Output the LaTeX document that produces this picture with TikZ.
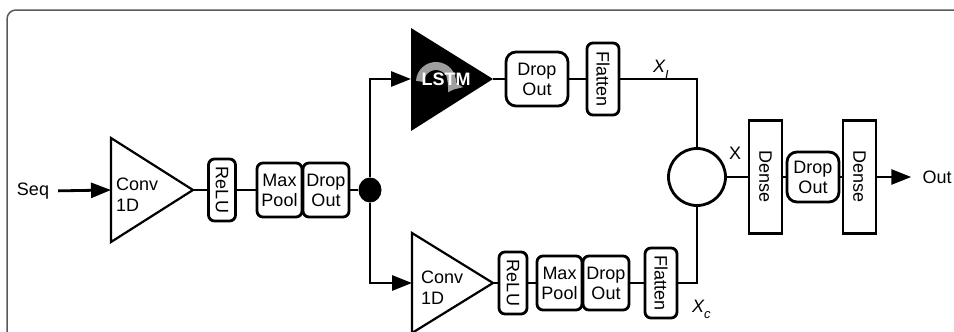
\documentclass[tikz,border=0pt]{standalone}
\usepackage{fontspec}
\setmainfont{Liberation Sans}
\usetikzlibrary{arrows.meta,shapes.geometric}
\begin{document}
\begin{tikzpicture}[x=1pt,y=-1pt,
  lw/.style={line width=2.8pt},
  conn/.style={lw, draw=black},
  arr/.style={lw, draw=black, -{Triangle[length=20pt,width=15pt]}},
  box/.style={draw, lw, fill=white, rounded corners=6pt, inner sep=0pt, align=center,
    font=\fontsize{18}{20}\selectfont},
  bigbox/.style={box, rounded corners=10pt},
  sharpbox/.style={box, rounded corners=0pt},
  lbl/.style={inner sep=0pt, font=\fontsize{18}{21}\selectfont},
  tri/.style={draw, line width=2.2pt, fill=white},
  frame/.style={draw=black!65, line width=1.5pt, rounded corners=9pt}
]
\useasboundingbox (0,0) rectangle (954,332);
\draw[frame] (7,360) -- (7,10) -- (980,10);

% input
\node[lbl] (seq) at (33,191) {Seq};

% first conv
\draw[tri] (111,138) -- (193,190) -- (111,242) -- cycle;
\coordinate (c1in) at (111,190);
\coordinate (c1out) at (193,190);
\node[lbl, anchor=west, align=left] (c1txt) at (116,195) {Conv\\1D};

\node[box, minimum width=27pt, minimum height=62pt] (relu1) at (222,190) {\rotatebox[origin=c]{-90}{ReLU}};
\node[box, minimum width=45pt, minimum height=54pt] (mp1) at (279.5,190) {Max\\Pool};
\node[box, minimum width=46pt, minimum height=54pt] (do1) at (326,190) {Drop\\Out};
\node[ellipse, fill=black, minimum width=23pt, minimum height=25pt, inner sep=0pt] (dot) at (370,190) {};

\coordinate (lin) at (411,79);
\coordinate (c2in) at (412,283);

% LSTM branch
\fill[black] (411,28) -- (493,79) -- (411,131) -- cycle;
\coordinate (lout) at (493,79);
\draw[draw=black!38, line width=8pt, -{Triangle[length=10pt,width=19pt]}] (436,82) ++(182:16) arc (182:392:16);
\node[lbl, text=white, font=\fontsize{18}{20}\selectfont\bfseries] (lstm) at (446,79) {LSTM};
\node[bigbox, minimum width=62pt, minimum height=54pt] (do2) at (537,79) {Drop\\Out};
\node[box, minimum width=32pt, minimum height=72pt] (fl1) at (603,79) {\rotatebox[origin=c]{-90}{Flatten}};

% lower conv branch
\draw[tri] (412,233) -- (493,283) -- (412,333) -- cycle;
\coordinate (c2out) at (493,283);
\node[lbl, anchor=west, align=left] (c2txt) at (421,288) {Conv\\1D};
\node[box, minimum width=28pt, minimum height=62pt] (relu2) at (513,283) {\rotatebox[origin=c]{-90}{ReLU}};
\node[box, minimum width=45pt, minimum height=54pt] (mp2) at (559.5,283) {Max\\Pool};
\node[box, minimum width=46pt, minimum height=54pt] (do3) at (606,283) {Drop\\Out};
\node[box, minimum width=32pt, minimum height=70pt] (fl2) at (661,283) {\rotatebox[origin=c]{-90}{Flatten}};

% merge and output
\node[circle, draw, lw, fill=white, minimum size=57pt, inner sep=0pt] (sum) at (697,177) {};
\node[sharpbox, minimum width=33pt, minimum height=113pt] (dense1) at (765.5,177) {\rotatebox[origin=c]{-90}{Dense}};
\node[bigbox, minimum width=52pt, minimum height=50pt] (do4) at (813,177) {Drop\\Out};
\node[sharpbox, minimum width=33pt, minimum height=113pt] (dense2) at (859.5,177) {\rotatebox[origin=c]{-90}{Dense}};
\node[lbl] (out) at (937,177) {Out};

% labels
\node[lbl, anchor=base west] (xl) at (653,72) {\itshape X\raisebox{-7pt}{\fontsize{13}{13}\selectfont L}};
\node[lbl, anchor=base west] (xc) at (692,312) {\itshape X\raisebox{-6pt}{\fontsize{13}{13}\selectfont c}};
\node[lbl] (x) at (735,153) {X};

% connectors
\draw[arr, shorten <=9pt] (seq.east) -- (c1in);
\draw[conn] (c1out) -- (relu1.west);
\draw[conn] (relu1.east) -- (mp1.west);
\draw[conn] (do1.east) -- (dot.west);
\draw[arr] (dot.north) |- (lin);
\draw[arr] (dot.south) |- (c2in);
\draw[conn] (lout) -- (do2.west);
\draw[conn] (do2.east) -- (fl1.west);
\draw[conn] (fl1.east) -| (sum.north);
\draw[conn] (c2out) -- (relu2.west);
\draw[conn] (relu2.east) -- (mp2.west);
\draw[conn] (do3.east) -- (fl2.west);
\draw[conn] (fl2.east) -| (sum.south);
\draw[conn] (sum.east) -- (dense1.west);
\draw[conn] (dense1.east) -- (do4.west);
\draw[conn] (do4.east) -- (dense2.west);
\draw[arr, shorten >=11pt] (dense2.east) -- (out.west);
\end{tikzpicture}
\end{document}
